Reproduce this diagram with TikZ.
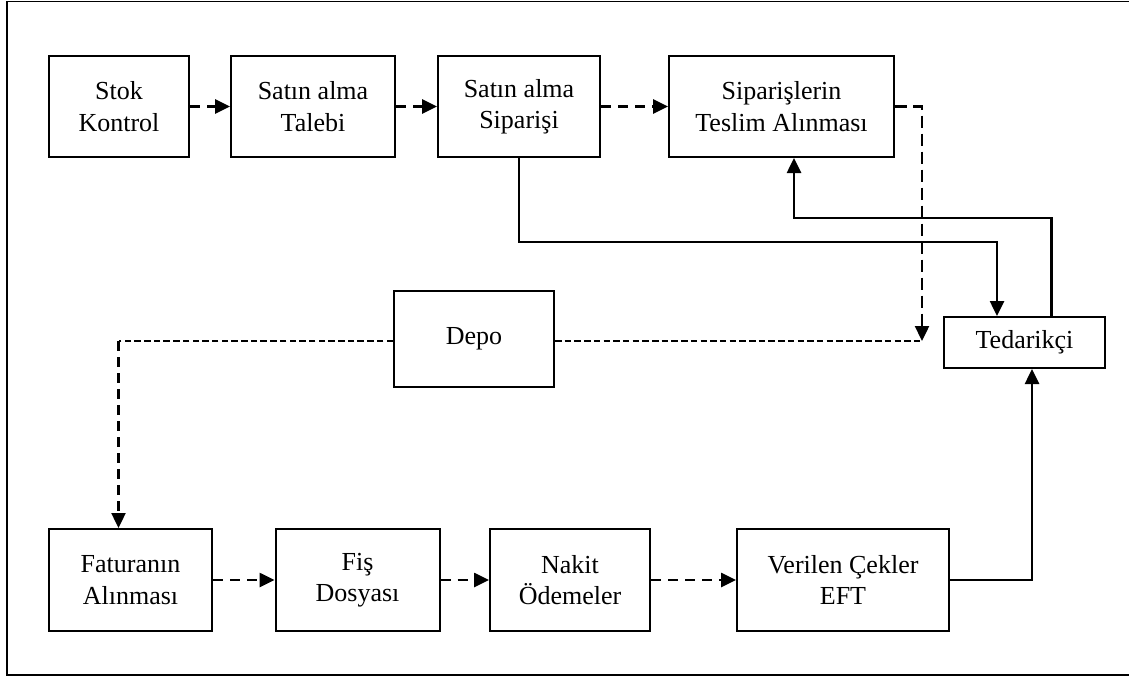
\documentclass[tikz,border=0pt]{standalone}
\usepackage{fontspec}
\setmainfont{Liberation Serif}
\usetikzlibrary{arrows.meta}
\tikzset{
  box/.style={draw, line width=2pt, inner sep=0pt, align=center,
    font=\fontsize{26}{31.5}\selectfont},
  tip/.style={-{Triangle[length=15pt,width=14pt]}},
  solidline/.style={line width=2.6pt},
  dashline/.style={line width=2.6pt, dash pattern=on 10pt off 7pt},
  longdash/.style={line width=2.4pt, dash pattern=on 12pt off 6pt},
  fineline/.style={line width=2.3pt, dash pattern=on 6.5pt off 3.2pt},
}
\begin{document}
\begin{tikzpicture}[x=1pt, y=-1pt]
\useasboundingbox (0,0) rectangle (1129,677);
% page frame, open on the right
\draw[line width=1.8pt] (1129,1.5) -- (7,1.5) -- (7,675) -- (1129,675);

% top row
\node[box, minimum width=140pt, minimum height=101pt] (stok)   at (119,106.5)   {Stok\\Kontrol};
\node[box, minimum width=164pt, minimum height=101pt] (talebi) at (313,106.5)   {Satın alma\\Talebi};
\node[box, minimum width=162pt, minimum height=101pt] (siparis) at (519,106.5)  {Satın alma\\Siparişi};
\node[box, minimum width=225pt, minimum height=101pt] (teslim) at (781.5,106.5) {Siparişlerin\\Teslim Alınması};

% middle
\node[box, minimum width=161pt, minimum height=51pt] (tedarik) at (1024.5,342.5) {Tedarikçi};
\node[box, minimum width=160pt, minimum height=96pt] (depo)    at (474,339)      {Depo};

% bottom row
\node[box, minimum width=163pt, minimum height=102pt] (fatura) at (130.5,580) {Faturanın\\Alınması};
\node[box, minimum width=164pt, minimum height=102pt] (fis)    at (357.5,580) {Fiş\\Dosyası};
\node[box, minimum width=160pt, minimum height=102pt] (nakit)  at (570,580)   {Nakit\\Ödemeler};
\node[box, minimum width=212pt, minimum height=102pt] (cekler) at (843,580)   {Verilen Çekler\\EFT};

% helper points
\coordinate (tedIn)   at ([xshift=-27.5pt]tedarik.north);
\coordinate (tedOut)  at ([xshift=27pt]tedarik.north);
\coordinate (tesIn)   at ([xshift=12.5pt]teslim.south);
\coordinate (tedLow)  at ([xshift=7.5pt]tedarik.south);
\coordinate (meet)    at (922,341);
\coordinate (fatIn)   at ([xshift=-12pt]fatura.north);
\coordinate (depoL)   at (depo.west |- meet);
\coordinate (depoR)   at (depo.east |- meet);

% dashed flow along the top row
\draw[dashline, tip] (stok.east) -- (talebi.west);
\draw[dashline, tip] (talebi.east) -- (siparis.west);
\draw[dashline, tip] (siparis.east) -- (teslim.west);

% dashed flow along the bottom row
\draw[dashline, tip] (fatura.east) -- (fis.west);
\draw[dashline, tip] (fis.east) -- (nakit.west);
\draw[dashline, tip] (nakit.east) -- (cekler.west);

% supplier links
\draw[solidline, tip] (siparis.south) -- (siparis.south |- 0,242) -| (tedIn);
\draw[solidline, tip] (tedOut) -- (tedOut |- 0,218) -| (tesIn);
\draw[solidline, tip] (cekler.east) -| (tedLow);

% warehouse links
\draw[longdash, tip] (teslim.east) -| (meet);
\draw[fineline] (depoR) -- (meet);
\draw[fineline] (depoL) -- (depoL -| fatIn);
\draw[line width=2.4pt, dash pattern=on 10pt off 6pt, tip] (depoL -| fatIn) -- (fatIn);
\end{tikzpicture}
\end{document}
